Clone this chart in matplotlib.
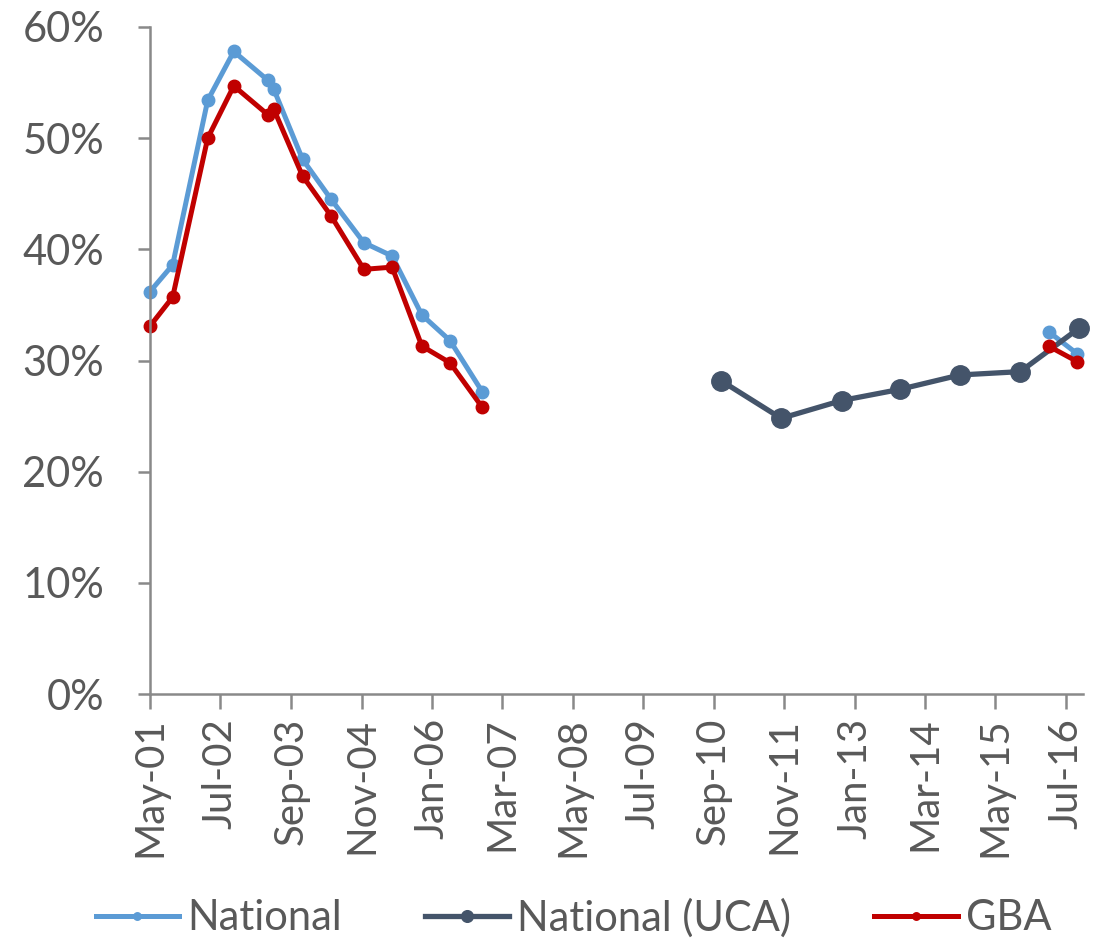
import numpy as np
import pandas as pd
import matplotlib
matplotlib.use("Agg")
import matplotlib.pyplot as plt

# national series (EPH waves), two separate stretches
nat_dates = ["2001-05-01", "2001-09-15", "2002-04-15", "2002-09-20", "2003-04-15",
             "2003-05-20", "2003-11-10", "2004-05-01", "2004-11-15", "2005-05-05",
             "2005-11-01", "2006-04-20", "2006-11-01", "2016-03-20", "2016-09-10"]
nat_vals = [36.2, 38.6, 53.4, 57.8, 55.2, 54.4, 48.1, 44.5, 40.6, 39.4,
            34.1, 31.8, 27.2, 32.6, 30.6]

# national (UCA)
uca_dates = ["2010-10-15", "2011-10-15", "2012-10-15", "2013-10-01",
             "2014-10-01", "2015-10-01", "2016-09-20"]
uca_vals = [28.2, 24.8, 26.4, 27.4, 28.7, 29.0, 32.9]

# GBA
gba_dates = nat_dates
gba_vals = [33.1, 35.7, 50.0, 54.7, 52.1, 52.6, 46.6, 43.0, 38.2, 38.4,
            31.3, 29.8, 25.8, 31.3, 29.9]

tick_dates = ["2001-05-01", "2002-07-01", "2003-09-01", "2004-11-01", "2006-01-01",
              "2007-03-01", "2008-05-01", "2009-07-01", "2010-09-01", "2011-11-01",
              "2013-01-01", "2014-03-01", "2015-05-01", "2016-07-01"]
tick_labels = ["May-01", "Jul-02", "Sep-03", "Nov-04", "Jan-06", "Mar-07", "May-08",
               "Jul-09", "Sep-10", "Nov-11", "Jan-13", "Mar-14", "May-15", "Jul-16"]
y_ticks = [0, 10, 20, 30, 40, 50, 60]

c_nat = "#5B9BD5"
c_uca = "#44546A"
c_gba = "#C00000"
grey = "#595959"

plt.rcParams['font.family'] = ['Lato', 'DejaVu Sans']

fig = plt.figure(figsize=(10.99, 9.44), dpi=100)
ax = fig.add_axes([0.1365, 0.2648, 0.849, 0.7066])

nd = pd.to_datetime(nat_dates)
gd = pd.to_datetime(gba_dates)
ud = pd.to_datetime(uca_dates)

# first 13 points and last 2 are separate segments
ax.plot(nd[:13], nat_vals[:13], color=c_nat, lw=3.6, marker='o', ms=9, label="National", clip_on=False)
ax.plot(nd[13:], nat_vals[13:], color=c_nat, lw=3.6, marker='o', ms=9, clip_on=False)
ax.plot(ud, uca_vals, color=c_uca, lw=3.8, marker='o', ms=14, label="National (UCA)", clip_on=False)
ax.plot(gd[:13], gba_vals[:13], color=c_gba, lw=3.6, marker='o', ms=9, label="GBA", clip_on=False)
ax.plot(gd[13:], gba_vals[13:], color=c_gba, lw=3.6, marker='o', ms=9, clip_on=False)

ax.set_xlim(pd.Timestamp("2001-05-01"), pd.Timestamp("2016-10-15"))
ax.set_ylim(0, 60)
ax.set_yticks(y_ticks)
ax.set_yticklabels([f"{v}%" for v in y_ticks], fontsize=30, color=grey)
ax.set_xticks(pd.to_datetime(tick_dates))
ax.set_xticklabels(tick_labels, rotation=90, fontsize=29, color=grey)

for s in ["top", "right"]:
    ax.spines[s].set_visible(False)
for s in ["left", "bottom"]:
    ax.spines[s].set_color("#898989")
    ax.spines[s].set_linewidth(1.8)
ax.tick_params(axis='y', length=9, width=1.8, color="#898989", pad=24)
ax.tick_params(axis='x', length=11, width=1.8, color="#898989", pad=6)

leg = fig.legend(loc="center", bbox_to_anchor=(0.522, 0.028), ncol=3, frameon=False,
                 fontsize=30, handlelength=2.0, columnspacing=2.0, handletextpad=0.2,
                 markerscale=0.6)
for t in leg.get_texts():
    t.set_color(grey)

fig.savefig("out.png", dpi=100)
